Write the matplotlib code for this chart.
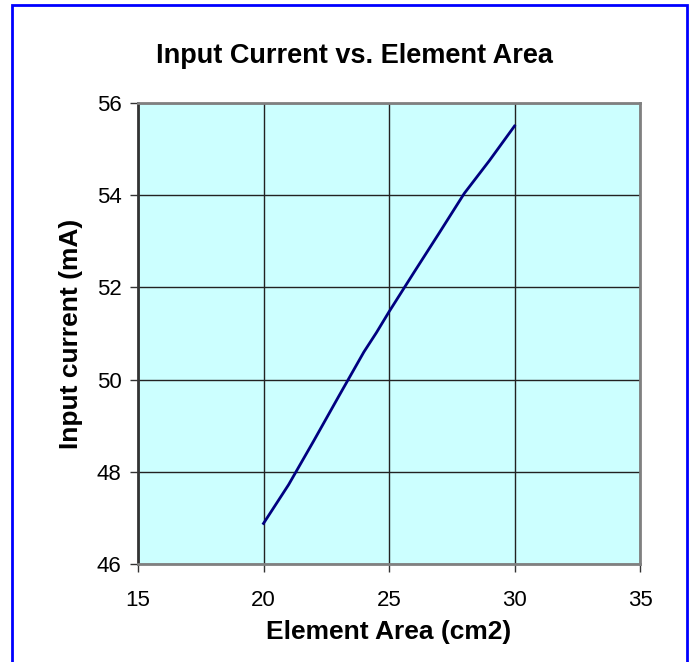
import matplotlib.pyplot as plt
from matplotlib.patches import Rectangle

plt.rcParams['font.family'] = ['Liberation Sans', 'DejaVu Sans']

# element area (cm2) vs input current (mA)
area = [20, 21, 22, 23, 24, 24.5, 25, 26, 27, 28, 29, 30]
current = [46.88, 47.72, 48.67, 49.64, 50.6, 51.02, 51.47, 52.33, 53.18, 54.04, 54.75, 55.5]

x_ticks = [15, 20, 25, 30, 35]
y_ticks = [46, 48, 50, 52, 54, 56]

fig = plt.figure(figsize=(6.95, 6.62), dpi=100)
fig.patch.set_facecolor('white')

# blue outer frame
fig.patches.append(Rectangle((12 / 695, -0.05), (687 - 12) / 695, 1 - 5 / 662 + 0.05,
                             transform=fig.transFigure, fill=False,
                             edgecolor='#0000FF', linewidth=2))

ax = fig.add_axes([138 / 695, 1 - 564 / 662, (640 - 138) / 695, (564 - 103) / 662])
ax.set_facecolor('#CCFFFF')

ax.plot(area, current, color='#000080', linewidth=2)

ax.set_xlim(15, 35)
ax.set_ylim(46, 56)
ax.set_xticks(x_ticks)
ax.set_yticks(y_ticks)
ax.grid(True, color='#222222', linewidth=1)
ax.set_axisbelow(True)

for side in ['top', 'right', 'bottom']:
    ax.spines[side].set_color('#808080')
    ax.spines[side].set_linewidth(2)
ax.spines['left'].set_color('#333333')
ax.spines['left'].set_linewidth(2)

ax.tick_params(direction='out', length=6, width=1, color='#333333', labelsize=16)
ax.tick_params(axis='x', pad=13)
ax.tick_params(axis='y', pad=6)

# title is centred on the whole chart area, not on the plot
fig.text(354 / 695, 1 - 63 / 662, 'Input Current vs. Element Area',
         fontsize=19.5, fontweight='bold', ha='center', va='baseline')
ax.set_xlabel('Element Area (cm2)', fontsize=19, fontweight='bold', labelpad=6)
ax.set_ylabel('Input current (mA)', fontsize=19, fontweight='bold', labelpad=10)

fig.savefig('out.png', dpi=100)
